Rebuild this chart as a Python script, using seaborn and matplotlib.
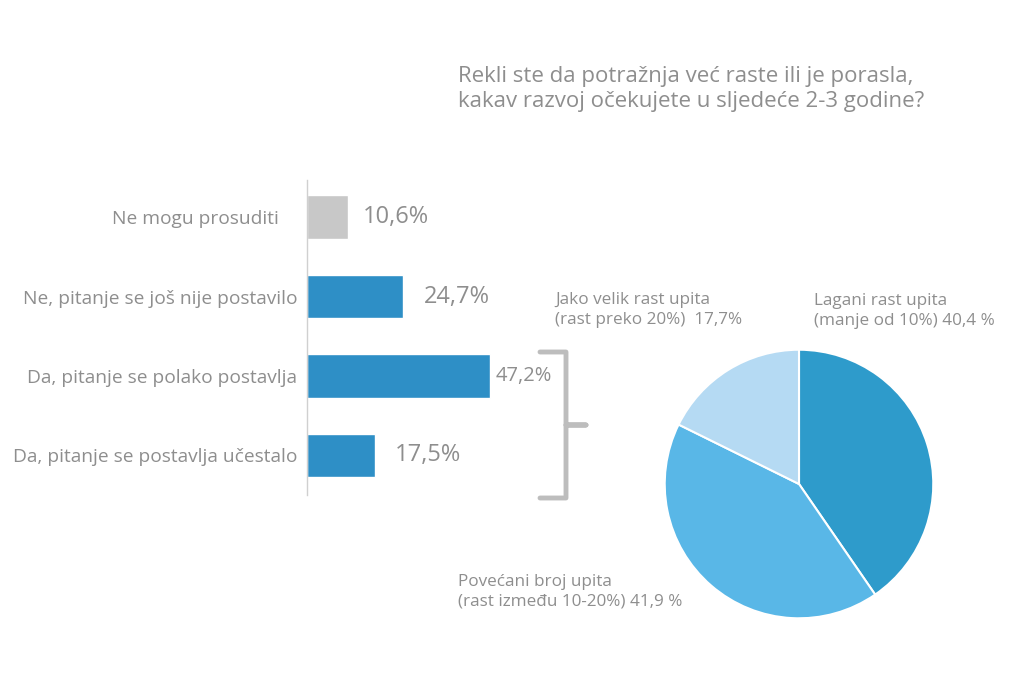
import numpy as np
import matplotlib
matplotlib.use("Agg")
import matplotlib.pyplot as plt
from matplotlib.path import Path
from matplotlib.patches import PathPatch
import seaborn as sns

# bar chart data
bar_labels = ["Ne mogu prosuditi", "Ne, pitanje se još nije postavilo",
              "Da, pitanje se polako postavlja", "Da, pitanje se postavlja učestalo"]
bar_values = [10.6, 24.7, 47.2, 17.5]
bar_texts = ["10,6%", "24,7%", "47,2%", "17,5%"]

# pie data (clockwise from top)
pie_labels = ["Lagani rast upita\n(manje od 10%) 40,4 %",
              "Povećani broj upita\n(rast između 10-20%) 41,9 %",
              "Jako velik rast upita\n(rast preko 20%)  17,7%"]
pie_values = [40.4, 41.9, 17.7]

title = "Rekli ste da potražnja već raste ili je porasla,\nkakav razvoj očekujete u sljedeće 2-3 godine?"

sns.set_style("white")
plt.rcParams['font.family'] = ['Open Sans', 'DejaVu Sans']
grey_txt = "#8e8e8e"

W, H = 1024, 683
fig = plt.figure(figsize=(W / 100, H / 100), dpi=100)
fig.patch.set_facecolor("white")

def px_axes(x0, y0, x1, y1):
    return fig.add_axes([x0 / W, 1 - y1 / H, (x1 - x0) / W, (y1 - y0) / H])

# --- bars ---
ax = px_axes(307, 180, 540, 495)
bar_pal = ["#c8c8c8", "#2e8fc6", "#2e8fc6", "#2e8fc6"]
sns.barplot(x=bar_values, y=bar_labels, hue=bar_labels, palette=bar_pal,
            legend=False, width=0.55, ax=ax, saturation=1)
ax.set_xlim(0, 60)
ax.set_ylim(3.5, -0.47)
ax.set_xticks([])
ax.set_yticks(range(len(bar_labels)))
ax.set_yticklabels(bar_labels)
ax.tick_params(axis="y", length=0, pad=7, labelsize=13.8, labelcolor=grey_txt)
for s in ["top", "right", "bottom"]:
    ax.spines[s].set_visible(False)
ax.spines["left"].set_color("#d0d0d0")
ax.spines["left"].set_linewidth(1)
# the first label sits a little further from the axis
ax.get_yticklabels()[0].set_x(-0.08)

txt_offsets = [15, 21, 5, 20]
txt_sizes = [17, 17, 14.5, 17]
for i, (v, t) in enumerate(zip(bar_values, bar_texts)):
    ax.annotate(t, (v, i), xytext=(txt_offsets[i] * 0.72, 0), textcoords="offset points",
                va="center", ha="left", fontsize=txt_sizes[i], color=grey_txt)

# --- brace ---
bax = px_axes(0, 0, W, H)
bax.set_xlim(0, W)
bax.set_ylim(H, 0)
bax.axis("off")
verts = [(540, 352), (566, 352), (566, 352), (566, 360),
         (566, 425), (566, 425), (570, 425), (586, 425),
         (570, 425), (566, 425), (566, 425),
         (566, 490), (566, 498), (566, 498), (540, 498)]
codes = [Path.MOVETO, Path.LINETO, Path.CURVE3, Path.CURVE3,
         Path.LINETO, Path.CURVE3, Path.CURVE3, Path.LINETO,
         Path.LINETO, Path.CURVE3, Path.CURVE3,
         Path.LINETO, Path.CURVE3, Path.CURVE3, Path.LINETO]
bax.add_patch(PathPatch(Path(verts, codes), fill=False, edgecolor="#bdbdbd", lw=3.5,
                        capstyle="round", joinstyle="round"))

# --- pie ---
pax = px_axes(799 - 141, 484 - 141, 799 + 141, 484 + 141)
pie_cols = ["#2e9bcb", "#59b7e7", "#b5daf3"]
pax.pie(pie_values, colors=pie_cols, startangle=90, counterclock=False,
        wedgeprops=dict(edgecolor="white", linewidth=1.5))
pax.set_xlim(-1.05, 1.05)
pax.set_ylim(-1.05, 1.05)
pax.set_aspect("equal")
pax.axis("off")

lab_pos = [(814, 311), (458, 592), (555, 310)]
for (x, y), lab in zip(lab_pos, pie_labels):
    fig.text(x / W, 1 - y / H, lab, ha="left", va="center", fontsize=12.3,
             color=grey_txt, linespacing=1.3)

fig.text(458 / W, 1 - 89 / H, title, ha="left", va="center", fontsize=16,
         color=grey_txt, linespacing=1.3)

fig.savefig("out.png", dpi=100, facecolor="white")
